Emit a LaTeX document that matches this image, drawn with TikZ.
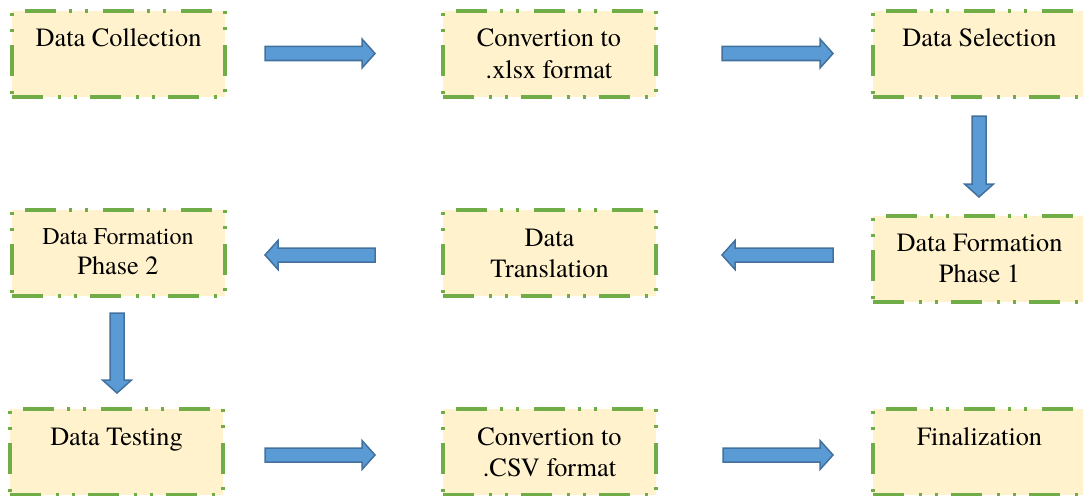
\documentclass[tikz,border=0pt]{standalone}
\usepackage{fontspec}
\newfontfamily\stagefont{texgyretermes-regular.otf}
\usetikzlibrary{calc}

\definecolor{boxedge}{HTML}{70AD47}
\definecolor{boxfill}{HTML}{FFF2CC}
\definecolor{arrowfill}{HTML}{5B9BD5}
\definecolor{arrowedge}{HTML}{41719C}

% text block of a stage box: lines hang from the top edge
\newcommand\boxlines[2][36pt]{%
  \parbox[c][86pt][t]{213pt}{\centering\stagefont\fontsize{26.3}{31}\selectfont
  \rule{0pt}{#1}#2\par}}

\tikzset{
  stage/.style={rectangle, draw=boxedge, fill=boxfill, line width=4pt,
    dash pattern=on 31pt off 15pt on 3pt off 13pt on 3pt off 13pt,
    inner sep=0pt, outer sep=0pt},
  blockarrow/.style={draw=arrowedge, fill=arrowfill, line width=1.5pt,
    line join=miter,
    to path={
      ($(\tikztotarget)!13pt!(\tikztostart)$) coordinate (bah)
      ($(\tikztostart)!7pt!90:(\tikztotarget)$)
        -- ($(bah)!7pt!90:(\tikztotarget)$)
        -- ($(bah)!14.5pt!90:(\tikztotarget)$)
        -- (\tikztotarget)
        -- ($(bah)!14.5pt!-90:(\tikztotarget)$)
        -- ($(bah)!7pt!-90:(\tikztotarget)$)
        -- ($(\tikztostart)!7pt!-90:(\tikztotarget)$)
        -- cycle}}
}

\begin{document}
\begin{tikzpicture}[x=1pt,y=-1pt]
\useasboundingbox (0,0) rectangle (1083,495);
\clip (0,0) rectangle (1083,495);

% stage boxes
\node[stage] (c1) at (118.5,54) {\boxlines{Data Collection}};
\node[stage] (c2) at (549,54)   {\boxlines{Convertion to\\.xlsx format}};
\node[stage] (c3) at (979.5,54) {\boxlines{Data Selection}};
\node[stage] (c4) at (118,253)  {\boxlines[34pt]{{\fontsize{24}{30}\selectfont Data Formation}\\[-1pt]Phase 2}};
\node[stage] (c5) at (549.5,253) {\boxlines{Data\\Translation}};
\node[stage] (c6) at (979.5,258.5) {\boxlines{Data Formation\\Phase 1}};
\node[stage] (c7) at (116.5,452) {\boxlines{Data Testing}};
\node[stage] (c8) at (549.5,452) {\boxlines{Convertion to\\.CSV format}};
\node[stage] (c9) at (979.5,452) {\boxlines{Finalization}};

% arrow end points
\coordinate (a1s) at (265,53.5);  \coordinate (a1e) at (375,53.5);
\coordinate (a2s) at (722,53.5);  \coordinate (a2e) at (833,53.5);
\coordinate (a3s) at (979,116);   \coordinate (a3e) at (979,197);
\coordinate (a4s) at (833,255);   \coordinate (a4e) at (722,255);
\coordinate (a5s) at (375,255);   \coordinate (a5e) at (265,255);
\coordinate (a6s) at (117,313);   \coordinate (a6e) at (117,393);
\coordinate (a7s) at (265,455);   \coordinate (a7e) at (375,455);
\coordinate (a8s) at (723,455);   \coordinate (a8e) at (833,455);

% block arrows between stages
\foreach \k in {1,...,8}{
  \path[blockarrow] (a\k s) to (a\k e);
}
\end{tikzpicture}
\end{document}
